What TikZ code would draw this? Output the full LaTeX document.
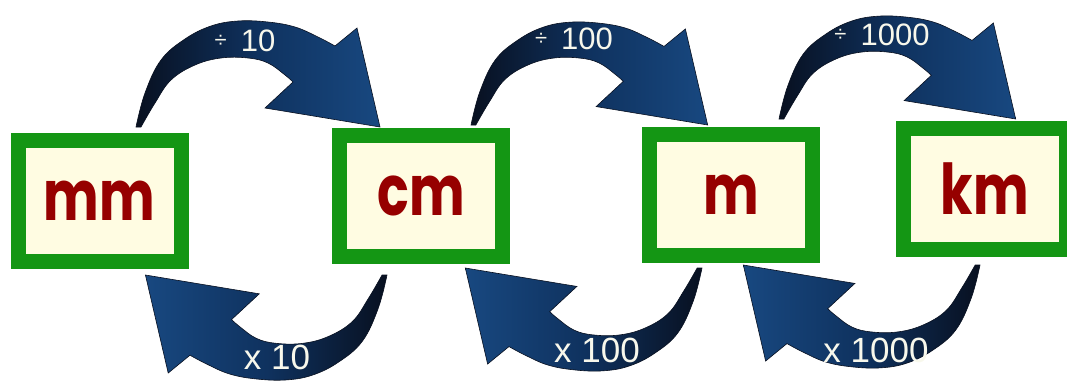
\documentclass[tikz,border=0pt]{standalone}
\usepackage{fontspec}
\usepackage{graphicx}
\setmainfont{Liberation Sans}
\newfontfamily\unitfont{Poppins}
\usetikzlibrary{calc}

\definecolor{boxgreen}{RGB}{20,150,20}
\definecolor{boxfill}{RGB}{255,252,226}
\definecolor{unitred}{RGB}{150,0,0}
\definecolor{arrowdark}{RGB}{8,16,32}
\definecolor{arrowmid}{RGB}{15,50,95}
\definecolor{arrowlight}{RGB}{24,72,128}
\definecolor{labelwhite}{RGB}{248,248,236}

\tikzset{
  unitbox/.style={draw=boxgreen, fill=boxfill, line width=15pt,
    minimum width=163pt, minimum height=121pt, inner sep=0pt,
    text=unitred, font=\unitfont\bfseries\fontsize{70}{70}\selectfont},
  divarrow/.style={left color=arrowdark, right color=arrowlight,
    middle color=arrowmid, draw=arrowdark, line width=0.6pt},
  mularrow/.style={left color=arrowlight, right color=arrowdark,
    middle color=arrowmid, draw=arrowdark, line width=0.6pt},
  divlabel/.style={text=labelwhite, inner sep=0pt,
    font=\fontsize{31}{31}\selectfont},
  mullabel/.style={text=labelwhite, inner sep=0pt,
    font=\fontsize{35}{35}\selectfont},
}

% narrow unit name
\newcommand\unitname[1]{\scalebox{0.75}[1]{#1}}
% small division sign, lifted to the middle of the digits
\newcommand\divsign{\raisebox{4pt}{\fontsize{22}{22}\selectfont ÷}}

% curved band arrow: #1 tail coordinate, #2 signed scale
% (negative = turned half round), #3 shading style
\newcommand\bendarrow[3]{%
  \pgfmathsetmacro\k{#2}%
  \begin{scope}[shift={(#1)}]
    \shadedraw[#3]
      ({\k*0},{\k*0})
      -- plot[smooth,tension=0.65] coordinates {({\k*0},{\k*0}) ({\k*9},{\k*(-34)})
           ({\k*25},{\k*(-67)}) ({\k*49},{\k*(-88)}) ({\k*75},{\k*(-101)})
           ({\k*102},{\k*(-106)}) ({\k*132},{\k*(-105)}) ({\k*159},{\k*(-100)})
           ({\k*182},{\k*(-90)}) ({\k*199},{\k*(-81)})}
      -- ({\k*221},{\k*(-99)})
      -- ({\k*244},{\k*0})
      -- ({\k*129},{\k*(-19)})
      -- plot[smooth,tension=0.65] coordinates {({\k*157},{\k*(-45)})
           ({\k*149},{\k*(-52)}) ({\k*132},{\k*(-64)}) ({\k*112},{\k*(-69)})
           ({\k*85},{\k*(-69)}) ({\k*59},{\k*(-62)}) ({\k*35},{\k*(-47)})
           ({\k*19},{\k*(-24)}) ({\k*5},{\k*0})}
      -- cycle;
  \end{scope}}

\begin{document}
\begin{tikzpicture}[x=1pt,y=-1pt]
\useasboundingbox (0,0) rectangle (1067,381);
\clip (0,0) rectangle (1067,381);

% tails of the six arrows
\coordinate (divA) at (136,127);
\coordinate (divB) at (471,125);
\coordinate (divC) at (779,119);
\coordinate (mulA) at (387,275);
\coordinate (mulB) at (702,268);
\coordinate (mulC) at (980,265);

\bendarrow{divA}{1}{divarrow}
\bendarrow{divB}{0.97}{divarrow}
\bendarrow{divC}{0.97}{divarrow}
\bendarrow{mulA}{-0.99}{mularrow}
\bendarrow{mulB}{-0.97}{mularrow}
\bendarrow{mulC}{-0.97}{mularrow}

% unit boxes
\node[unitbox] (mm) at (99.5,200.5) {\unitname{mm}};
\node[unitbox] (cm) at (421,195.5) {\unitname{cm}};
\node[unitbox] (m)  at (731,195)   {\unitname{m}};
\node[unitbox] (km) at (985,188.5) {\unitname{km}};

% conversion factors on the bands
\node[divlabel] (dA) at (245,41) {\divsign\hspace{14pt}10};
\node[divlabel] (dB) at (574,39) {\divsign\hspace{14pt}100};
\node[divlabel] (dC) at (882,35) {\divsign\hspace{14pt}1000};
\node[mullabel] (xA) at (277,357) {x 10};
\node[mullabel] (xB) at (597,350) {x 100};
\node[mullabel] (xC) at (876,350) {x 1000};
\end{tikzpicture}
\end{document}
